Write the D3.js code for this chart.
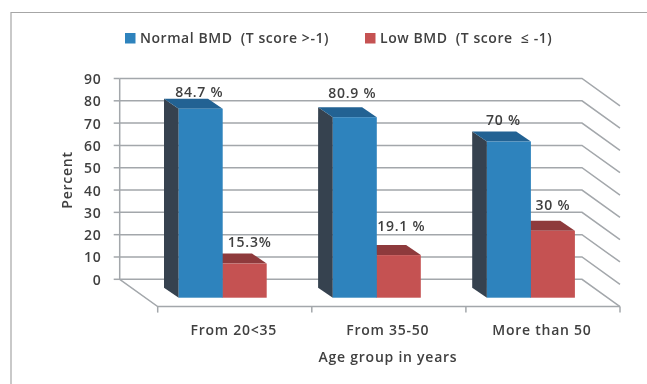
<!DOCTYPE html>
<html>
<head>
<meta charset="utf-8">
<script src="https://cdn.jsdelivr.net/npm/d3@7"></script>
<style>
  html, body { margin: 0; padding: 0; background: #fff; overflow: hidden; }
  svg { filter: blur(0.35px); }
  text { font-family: "Open Sans", sans-serif; font-weight: 600; fill: #404040; white-space: pre; letter-spacing: 0.75px; }
  text.legend-label { letter-spacing: 0.55px; }
</style>
</head>
<body>
<div id="chart"></div>
<script>
// Data
const categories = ["From 20<35", "From 35-50", "More than 50"];
const normalBmd = [84.7, 80.9, 70];
const lowBmd = [15.3, 19.1, 30];
const normalLabels = ["84.7 %", "80.9 %", "70 %"];
const lowLabels = ["15.3%", "19.1 %", "30 %"];
const yTicks = [0, 10, 20, 30, 40, 50, 60, 70, 80, 90];
const seriesNames = ["Normal BMD  (T score >-1)", "Low BMD  (T score  \u2264 -1)"];

const width = 647, height = 384;

const svg = d3.select("#chart").append("svg")
    .attr("width", width)
    .attr("height", height)
    .style("display", "block");

// Outer frame, runs off the right and bottom of the image
svg.append("path")
    .attr("d", "M647,12.5H11V384")
    .attr("fill", "none")
    .attr("stroke", "#a6a6a6")
    .attr("stroke-width", 1.2);

// Back wall and floor depth of the fake 3D box
const wall = {left: 119.7, right: 582, top: 78.5, bottom: 279.3};
const floor = {dx: 38, dy: 27.3};
const barDepth = {dx: 14.7, dy: 10};

const yScale = d3.scaleLinear()
    .domain([0, 90])
    .range([wall.bottom, wall.top]);

const xScale = d3.scaleBand()
    .domain(categories)
    .range([wall.left + floor.dx, wall.right + floor.dx]);

// Bars sit this far below the wall scale
const barDrop = 18.4;
const barX = d => xScale(d) + 21;
const barW = 44;

const gridColor = "#a3a7ab";

// Gridlines along the back wall, then down the right side wall
svg.append("g").selectAll("path")
    .data(yTicks)
    .join("path")
    .attr("d", d => `M${wall.left},${yScale(d)}H${wall.right}l${floor.dx},${floor.dy}`)
    .attr("fill", "none")
    .attr("stroke", gridColor)
    .attr("stroke-width", 1.5);

// Left axis and ticks
svg.append("path")
    .attr("d", `M${wall.left},${wall.top}V${wall.bottom}l${floor.dx},${floor.dy}H${wall.right + floor.dx}`)
    .attr("fill", "none")
    .attr("stroke", gridColor)
    .attr("stroke-width", 1.5);

svg.append("g").selectAll("line")
    .data(yTicks)
    .join("line")
    .attr("x1", wall.left - 6)
    .attr("x2", wall.left)
    .attr("y1", d => yScale(d))
    .attr("y2", d => yScale(d))
    .attr("stroke", gridColor)
    .attr("stroke-width", 1.5);

// Category ticks on the front floor edge
svg.append("g").selectAll("line")
    .data(categories.concat("end"))
    .join("line")
    .attr("x1", d => d === "end" ? wall.right + floor.dx : xScale(d))
    .attr("x2", d => d === "end" ? wall.right + floor.dx : xScale(d))
    .attr("y1", wall.bottom + floor.dy)
    .attr("y2", wall.bottom + floor.dy + 6)
    .attr("stroke", gridColor)
    .attr("stroke-width", 1.5);

// One 3D column: side, top, front
function drawBars(values, offset, front, side, top) {
    const g = svg.append("g");
    categories.forEach((c, i) => {
        const x0 = barX(c) + offset;
        const x1 = x0 + barW;
        const yTop = yScale(values[i]) + barDrop;
        const yBase = yScale(0) + barDrop;
        const pts = a => a.map(p => p.join(",")).join(" ");
        g.append("polygon")
            .attr("points", pts([[x0, yTop], [x0 - barDepth.dx, yTop - barDepth.dy], [x0 - barDepth.dx, yBase - barDepth.dy], [x0, yBase]]))
            .attr("fill", side);
        g.append("polygon")
            .attr("points", pts([[x0, yTop], [x0 - barDepth.dx, yTop - barDepth.dy], [x1 - barDepth.dx, yTop - barDepth.dy], [x1, yTop]]))
            .attr("fill", top);
        g.append("rect")
            .attr("x", x0)
            .attr("y", yTop)
            .attr("width", barW)
            .attr("height", yBase - yTop)
            .attr("fill", front);
    });
}

drawBars(lowBmd, barW, "#c55252", "#8e3a3c", "#8e3a3c");
drawBars(normalBmd, 0, "#2e83bd", "#36424f", "#226293");

// Value labels
const normalShift = {x: [-1.5, -2.5, -5.5], y: [-12, -19, -17]};
const lowShift = {x: [5, 2.5, 0], y: [-16.5, -24, -21]};

svg.append("g").selectAll("text")
    .data(categories)
    .join("text")
    .attr("x", (d, i) => barX(d) + barW / 2 + normalShift.x[i])
    .attr("y", (d, i) => yScale(normalBmd[i]) + barDrop + normalShift.y[i])
    .attr("text-anchor", "middle")
    .attr("font-size", 14)
    .text((d, i) => normalLabels[i]);

svg.append("g").selectAll("text")
    .data(categories)
    .join("text")
    .attr("x", (d, i) => barX(d) + barW * 1.5 + lowShift.x[i])
    .attr("y", (d, i) => yScale(lowBmd[i]) + barDrop + lowShift.y[i])
    .attr("text-anchor", "middle")
    .attr("font-size", 14)
    .text((d, i) => lowLabels[i]);

// Y tick labels
svg.append("g").selectAll("text")
    .data(yTicks)
    .join("text")
    .attr("x", 101.5)
    .attr("y", d => yScale(d) + 5.5)
    .attr("text-anchor", "end")
    .attr("font-size", 14)
    .text(d => d);

// Category labels
svg.append("g").selectAll("text")
    .data(categories)
    .join("text")
    .attr("x", d => xScale(d) + xScale.bandwidth() / 2 - 1)
    .attr("y", 335)
    .attr("text-anchor", "middle")
    .attr("font-size", 14)
    .text(d => d);

// Axis titles
svg.append("text")
    .attr("x", 388)
    .attr("y", 362)
    .attr("text-anchor", "middle")
    .attr("font-size", 14)
    .text("Age group in years");

svg.append("text")
    .attr("transform", "translate(72,180) rotate(-90)")
    .attr("text-anchor", "middle")
    .attr("font-size", 14)
    .text("Percent");

// Legend
const legendX = [125, 365];
const legendColors = ["#2e83bd", "#c55252"];

svg.append("g").selectAll("rect")
    .data(seriesNames)
    .join("rect")
    .attr("x", (d, i) => legendX[i])
    .attr("y", 33)
    .attr("width", 10.5)
    .attr("height", 10.5)
    .attr("fill", (d, i) => legendColors[i]);

svg.append("g").selectAll("text")
    .data(seriesNames)
    .join("text")
    .attr("class", "legend-label")
    .attr("x", (d, i) => legendX[i] + 15)
    .attr("y", 43)
    .attr("font-size", 14)
    .text(d => d);
</script>
</body>
</html>
